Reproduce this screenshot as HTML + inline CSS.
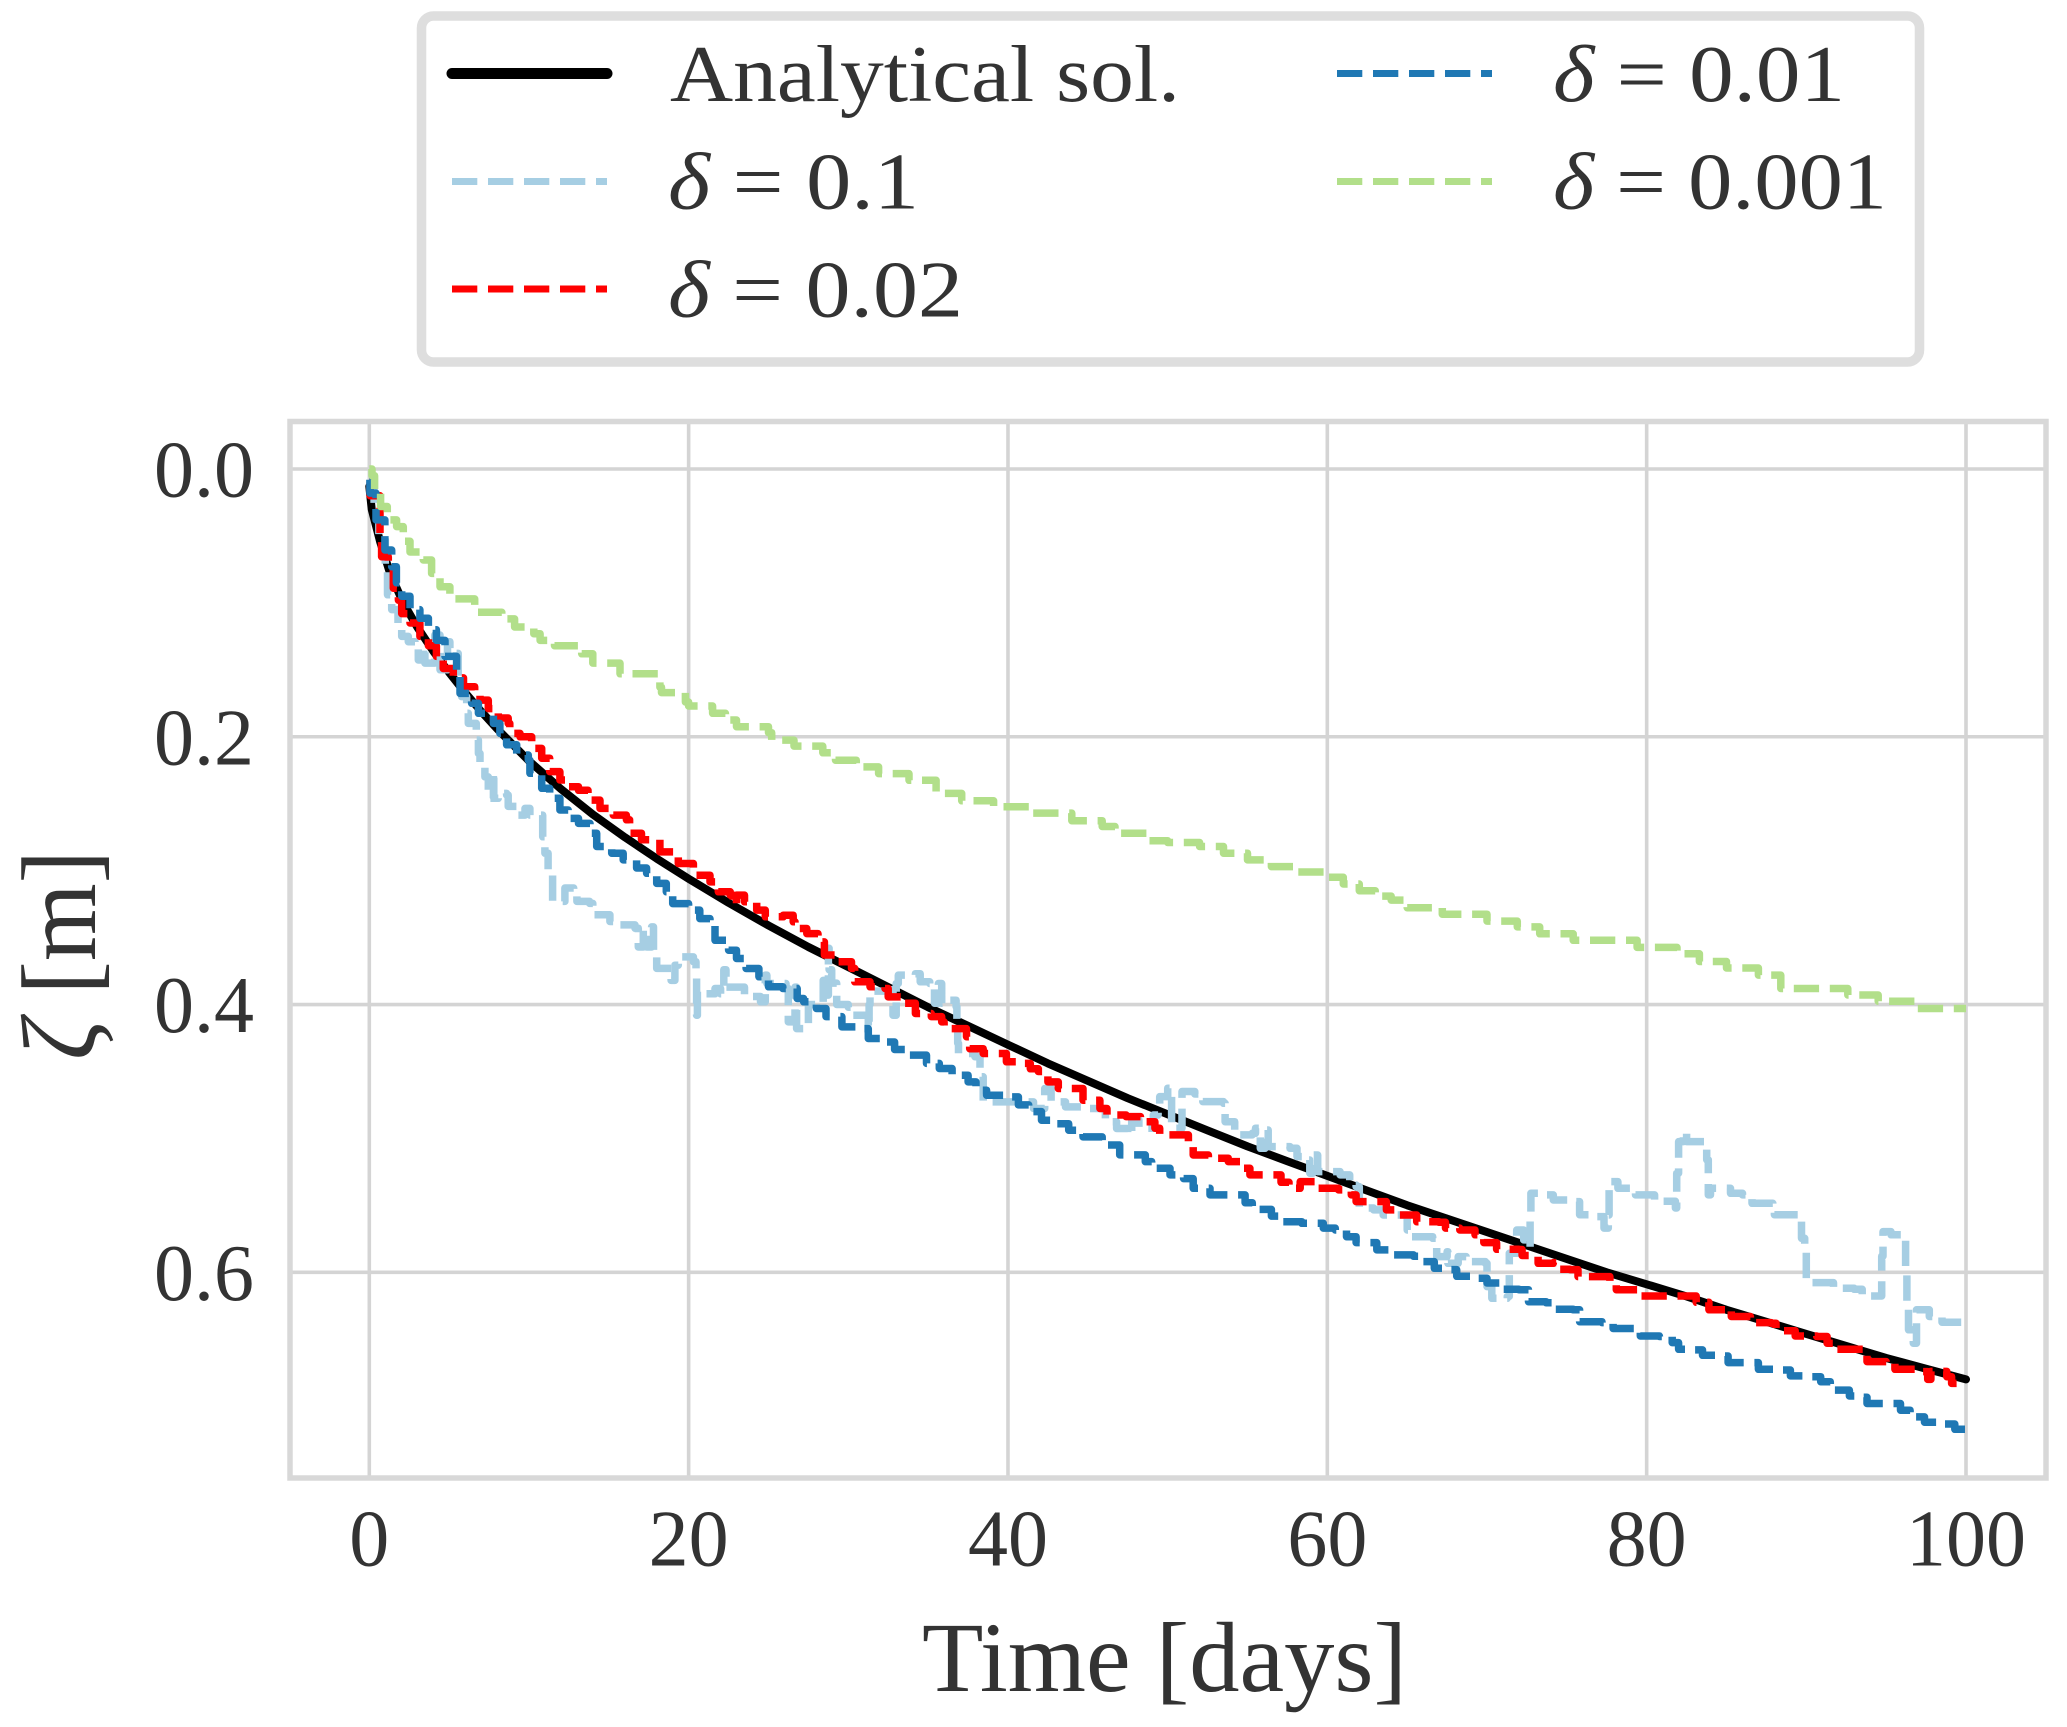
<!DOCTYPE html>
<html lang="en">
<head>
<meta charset="utf-8">
<title>Chart</title>
<style>
html,body{margin:0;padding:0;background:#fff;}
svg{display:block;}
text{font-family:"Liberation Serif",serif;fill:#333333;}
.tick{font-size:80px;}
.leg{font-size:80px;}
.axt{font-size:100px;}
</style>
</head>
<body>
<svg id="chart" xmlns="http://www.w3.org/2000/svg" width="2067" height="1727" viewBox="0 0 2067 1727">
  <rect x="0" y="0" width="2067" height="1727" fill="#ffffff"/>
  <g id="grid"></g>
  <g id="series"></g>
  <rect x="290" y="421.5" width="1756" height="1056.5" fill="none" stroke="#d8d8d8" stroke-width="5.5"/>
  <g id="ticks"></g>
  <text class="axt" x="922" y="1691" textLength="485" lengthAdjust="spacingAndGlyphs">Time [days]</text>
  <text class="axt" font-size="106" style="font-size:106px" transform="translate(95 1060) rotate(-90)" x="0" y="0" textLength="210" lengthAdjust="spacingAndGlyphs"><tspan font-style="italic">ζ</tspan> [m]</text>
  <g>
    <rect x="421.5" y="16" width="1498" height="346" rx="12" ry="12" fill="#ffffff" stroke="#dedede" stroke-width="9.5"/>
    <line x1="452" y1="73.5" x2="607" y2="73.5" stroke="#000000" stroke-width="11" stroke-linecap="round"/>
    <text class="leg" x="670" y="101" textLength="510" lengthAdjust="spacingAndGlyphs">Analytical sol.</text>
    <line x1="452" y1="181.5" x2="607" y2="181.5" stroke="#a6cee3" stroke-width="7" stroke-dasharray="25.3 10.7"/>
    <text class="leg" x="668" y="208.5" textLength="251" lengthAdjust="spacingAndGlyphs"><tspan font-style="italic">δ</tspan> = 0.1</text>
    <line x1="452" y1="289" x2="607" y2="289" stroke="#ff0000" stroke-width="7" stroke-dasharray="25.3 10.7"/>
    <text class="leg" x="668" y="316.5" textLength="295" lengthAdjust="spacingAndGlyphs"><tspan font-style="italic">δ</tspan> = 0.02</text>
    <line x1="1337" y1="73.5" x2="1492" y2="73.5" stroke="#1f78b4" stroke-width="7" stroke-dasharray="25.3 10.7"/>
    <text class="leg" x="1553" y="101" textLength="292" lengthAdjust="spacingAndGlyphs"><tspan font-style="italic">δ</tspan> = 0.01</text>
    <line x1="1337" y1="181.5" x2="1492" y2="181.5" stroke="#b2df8a" stroke-width="7" stroke-dasharray="25.3 10.7"/>
    <text class="leg" x="1553" y="208.5" textLength="334" lengthAdjust="spacingAndGlyphs"><tspan font-style="italic">δ</tspan> = 0.001</text>
  </g>
</svg>
<script>
const xTicks = [0, 20, 40, 60, 80, 100];
const yTicks = [0, 0.2, 0.4, 0.6];
const xTickLabels = ["0", "20", "40", "60", "80", "100"];
const yTickLabels = ["0.0", "0.2", "0.4", "0.6"];

// [day, zeta]
const analytical = [[0,.013],[.15,.03],[.67,.054],[1.3,.078],[2.13,.1],[3,.118],[4,.136],[5,.152],[6,.167],[7,.181],[8,.194],[9,.206],[10,.218],[12,.239],[14,.258],[16,.275],[18,.291],[20,.306],[22.5,.324],[25,.341],[27.5,.357],[30,.372],[32.5,.387],[35,.402],[37.5,.416],[40,.43],[42.5,.444],[45,.457],[47.5,.47],[50,.482],[52.5,.494],[55,.506],[57.5,.517],[60,.528],[62.5,.539],[65,.55],[67.5,.56],[70,.57],[72.5,.58],[75,.59],[77.5,.6],[80,.609],[82.5,.618],[85,.628],[87.5,.637],[90,.646],[92.5,.655],[95,.664],[97.5,.672],[100,.68]];

const delta1 = [[0,.01],[.3,.03],[.6,.05],[1,.075],[1.14,.094],[1.4,.105],[1.8,.115],[2.03,.125],[2.44,.129],[2.86,.133],[3.07,.1427],[3.4,.1327],[3.48,.145],[4.1,.124],[4.43,.15],[4.9,.129],[5.05,.1365],[5.47,.1377],[5.57,.155],[5.78,.17],[6.1,.1825],[6.2,.19],[6.7,.2024],[6.83,.2124],[6.93,.2224],[7.24,.23],[7.45,.246],[7.77,.226],[7.8,.246],[8.08,.2423],[8.6,.2435],[8.7,.252],[9.23,.2585],[9.75,.2535],[10.06,.2585],[10.8,.2585],[10.86,.2747],[11,.287],[11.2,.302],[11.48,.323],[12.25,.313],[12.8,.318],[13,.323],[13.8,.3245],[14,.333],[15.07,.338],[15.7,.3405],[16.64,.343],[16.85,.357],[17.16,.344],[17.37,.357],[17.68,.342],[17.8,.3644],[18,.373],[18.6,.373],[18.9,.382],[19.14,.3706],[19.35,.3644],[20.3,.368],[20.46,.377],[20.5,.408],[20.55,.3905],[21,.392],[21.65,.388],[22,.392],[22.2,.374],[22.34,.387],[23.2,.387],[23.5,.394],[24.5,.398],[24.8,.378],[24.9,.3843],[26.1,.388],[26.24,.413],[26.66,.387],[26.76,.418],[27.5,.4],[28.43,.382],[28.5,.393],[28.75,.358],[28.8,.374],[28.96,.384],[29.27,.4],[30,.402],[30.3,.408],[31.25,.418],[31.3,.4],[31.36,.39],[32.6,.389],[32.8,.408],[33,.3843],[33.13,.378],[34.2,.377],[34.5,.383],[35.1,.3843],[35.4,.399],[35.64,.3843],[35.85,.399],[36.26,.3968],[36.75,.4017],[36.8,.413],[36.85,.429],[36.9,.4366],[37.93,.439],[38.25,.454],[38.45,.4727],[39.9,.4727],[41.6,.4777],[42.3,.4627],[42.7,.4727],[43.6,.4765],[44.7,.4777],[46.1,.4876],[46.8,.4926],[47.5,.4974],[47.75,.4862],[48.2,.4924],[49,.4924],[49.1,.4825],[49.4,.4775],[49.5,.4688],[50,.4625],[50.25,.4924],[50.9,.465],[51.7,.4668],[52.2,.4725],[52.75,.4725],[53.5,.4738],[53.6,.4875],[54.2,.4974],[55.3,.4962],[55.5,.4924],[55.8,.5074],[56.1,.4937],[56.3,.5061],[57.66,.5074],[58.1,.5136],[58.5,.5161],[58.9,.526],[59.1,.5124],[59.4,.5248],[60.8,.5273],[61.4,.5348],[61.8,.536],[62,.552],[62.9,.5534],[63.5,.5572],[64.1,.5572],[65,.5684],[65.3,.5734],[65.9,.5734],[66.6,.5746],[66.85,.5883],[67.5,.5846],[67.55,.5933],[68.2,.5883],[68.7,.592],[69.9,.5933],[70,.6107],[70.3,.6194],[71.27,.618],[71.4,.5858],[71.86,.5684],[72.3,.5758],[72.5,.581],[72.7,.5547],[72.75,.541],[73.7,.5422],[74.15,.546],[75.5,.5472],[75.8,.557],[76.55,.5584],[77.33,.567],[77.6,.5572],[77.65,.5323],[78.2,.5373],[79.06,.5373],[79.3,.5422],[80.1,.5422],[80.5,.547],[81.67,.547],[81.8,.552],[81.88,.526],[82,.5024],[82.3,.495],[82.5,.5024],[83.65,.5036],[83.76,.516],[83.86,.5422],[84,.5373],[85.2,.5373],[85.25,.541],[86,.5422],[86.6,.5485],[87.9,.552],[88,.557],[89.4,.557],[89.7,.5746],[89.9,.583],[90,.6057],[90.3,.6077],[91,.6077],[91.7,.612],[93,.6127],[93.5,.6177],[94.7,.6177],[94.72,.588],[94.8,.5696],[95.3,.572],[96.2,.572],[96.22,.5983],[96.3,.6257],[96.4,.643],[96.7,.653],[96.9,.628],[97.7,.633],[98.5,.6373],[99.7,.6373]];

const delta02 = [[0,.01],[.05,.02],[.67,.048],[.77,.0655],[1.19,.0755],[1.5,.089],[1.82,.098],[2.03,.108],[2.55,.115],[3.17,.125],[3.7,.132],[4.2,.14],[4.63,.149],[5.26,.156],[5.9,.1626],[6.6,.166],[6.93,.1726],[7.45,.179],[8.08,.186],[8.7,.19],[8.8,.1975],[9.44,.2],[10.17,.2087],[10.8,.216],[11.3,.226],[11.94,.2323],[12.46,.2373],[13.1,.24],[13.7,.2473],[14.45,.2535],[15.28,.2585],[16.1,.262],[16.3,.272],[17.05,.277],[18.2,.286],[19.35,.2947],[20.3,.3034],[21.34,.3084],[21.86,.3158],[22.6,.3183],[22.8,.3258],[23,.3183],[23.5,.3233],[24.26,.3295],[24.8,.3345],[25.4,.3345],[25.93,.3333],[26.55,.3382],[26.66,.3432],[27.4,.347],[28.1,.3532],[28.5,.363],[29.3,.368],[30.2,.373],[30.4,.383],[31.36,.3868],[32.3,.388],[32.5,.3943],[33.44,.399],[34.2,.4067],[35.2,.409],[35.85,.413],[36,.418],[36.9,.418],[37.4,.424],[37.6,.433],[38.45,.4366],[39.4,.4366],[39.9,.4428],[40.75,.444],[41.4,.448],[41.9,.45],[42.5,.4578],[43.15,.4627],[44.3,.4627],[44.7,.4715],[45.76,.4777],[46.2,.4825],[47.4,.4837],[48.3,.4875],[49.2,.4924],[49.5,.4974],[50.8,.4974],[51.3,.5024],[51.6,.5124],[52.55,.5148],[53.8,.5173],[54.74,.5223],[55.15,.5273],[57.1,.5328],[57.6,.5373],[58.3,.5323],[59,.5323],[59.4,.5373],[60.7,.5385],[61.5,.5422],[61.8,.5472],[63.5,.5472],[63.7,.5534],[64.45,.5572],[65.6,.5622],[67,.5627],[67.4,.567],[68.3,.5684],[69.25,.572],[69.8,.5778],[70.6,.5828],[72,.583],[72.2,.5875],[73.1,.5875],[73.2,.5933],[74.15,.5928],[74.5,.5978],[75.2,.598],[75.7,.6032],[77,.6032],[77.7,.608],[78.1,.613],[79.5,.6177],[82.4,.6177],[83.1,.6224],[83.9,.628],[85,.627],[85.3,.633],[86.5,.6376],[87.8,.638],[88.1,.6436],[89.3,.6476],[90.65,.648],[91.3,.653],[91.9,.6575],[93.5,.6575],[93.8,.6667],[95,.6675],[95.55,.6725],[96.8,.6742],[97.6,.68],[97.8,.674],[98.8,.678],[99.1,.683],[100,.683]];

const delta01 = [[0,.008],[.04,.018],[.42,.038],[.98,.0605],[1.4,.073],[1.7,.085],[2.03,.095],[2.55,.105],[3.17,.1115],[3.7,.12],[4.2,.128],[4.74,.14],[5.47,.155],[5.68,.1676],[6.41,.175],[6.83,.1825],[7.77,.19],[8.18,.1975],[8.6,.206],[9.23,.2136],[9.96,.2174],[10.06,.2273],[10.8,.2385],[11.3,.246],[11.94,.2547],[12.46,.261],[13.1,.2647],[13.82,.272],[14.24,.282],[15.18,.287],[15.9,.292],[16.74,.298],[17.37,.302],[18,.3095],[18.6,.3158],[19,.3246],[20,.3295],[20.7,.3358],[21.34,.3407],[21.65,.352],[22.5,.3594],[23,.3656],[23.6,.3731],[24.4,.3793],[25,.3868],[25.9,.388],[26.8,.3955],[27.2,.398],[28,.403],[28.6,.409],[29.6,.4167],[30.5,.418],[31.25,.4254],[32,.428],[32.9,.4336],[33.65,.4378],[34.9,.444],[35.7,.4478],[36.5,.4528],[37.5,.4578],[38,.464],[38.66,.4677],[39.9,.469],[40.65,.475],[41.3,.48],[42.1,.4864],[42.94,.489],[43.8,.4939],[44.7,.4989],[45.9,.5049],[47,.5123],[48,.5123],[48.6,.5173],[49,.5223],[50.15,.5273],[51,.53],[51.6,.5373],[52.65,.5422],[54.2,.5422],[54.85,.548],[55.3,.553],[56.5,.558],[57.2,.5622],[58.4,.5634],[59.75,.567],[60.5,.5684],[61.2,.5734],[61.8,.5778],[63.1,.5833],[64.1,.587],[65.4,.588],[66,.592],[66.7,.597],[67.5,.598],[68.1,.603],[69.35,.6045],[70,.608],[70.8,.6127],[72,.613],[72.6,.622],[73.7,.6227],[74.3,.6276],[75.4,.628],[75.8,.6369],[77.2,.6376],[77.9,.642],[79.2,.6426],[79.6,.6476],[80.8,.648],[81.6,.6525],[82,.6575],[82.6,.658],[83.5,.662],[84.6,.6625],[85.1,.6675],[86.5,.6675],[87,.6725],[88.35,.673],[89,.6774],[89.9,.678],[90.9,.6817],[91.5,.688],[92.7,.6924],[93.5,.6934],[93.8,.698],[95.1,.698],[95.9,.703],[96.5,.708],[97.4,.712],[98.6,.7133],[99.3,.7173],[100,.7173]];

const delta001 = [[0,0],[.17,.005],[.33,.017],[.71,.028],[1.13,.038],[1.71,.043],[2.13,.054],[2.55,.062],[3.38,.068],[3.9,.078],[4.43,.088],[5.05,.097],[6.6,.107],[8.3,.112],[9.1,.118],[10.3,.123],[10.7,.128],[11.6,.132],[13.3,.138],[14,.145],[15.7,.153],[18.2,.163],[18.3,.167],[19.8,.174],[20,.177],[21.5,.1825],[22.3,.1875],[23,.1925],[25,.197],[25.2,.2025],[26.6,.207],[28.4,.212],[29.2,.2175],[30.5,.2225],[31.9,.2275],[33.8,.2325],[35.5,.2423],[37.1,.2478],[39.1,.2523],[41.4,.257],[44,.2627],[45.9,.267],[46.7,.272],[48.8,.2777],[50,.279],[52,.282],[53.5,.287],[55,.292],[56.5,.297],[58,.301],[60,.305],[61,.31],[62,.315],[63,.319],[64,.322],[65,.3277],[67.2,.3325],[70,.3377],[71.9,.342],[73.3,.3472],[75.4,.352],[79.4,.3573],[81.9,.3621],[83.3,.3679],[85,.3727],[87,.378],[88.4,.388],[92.6,.3929],[94.5,.3975],[96.8,.403],[100,.403]];

const SVGNS = "http://www.w3.org/2000/svg";
const xScale = function (day) { return 369.3 + day * 15.967; };
const yScale = function (zeta) { return 469 + zeta * 1338.8; };

function stepPath(points) {
  let d = "M" + xScale(points[0][0]).toFixed(1) + " " + yScale(points[0][1]).toFixed(1);
  for (let i = 1; i < points.length; i++) {
    d += "H" + xScale(points[i][0]).toFixed(1) + "V" + yScale(points[i][1]).toFixed(1);
  }
  return d;
}
function linePath(points) {
  return points.map(function (p, i) {
    return (i ? "L" : "M") + xScale(p[0]).toFixed(1) + " " + yScale(p[1]).toFixed(1);
  }).join("");
}

const gridGroup = document.getElementById("grid");
const tickGroup = document.getElementById("ticks");

xTicks.forEach(function (t, i) {
  const gl = document.createElementNS(SVGNS, "line");
  
  
  gl.setAttribute("x1", xScale(t));
  gl.setAttribute("x2", xScale(t));
  gl.setAttribute("y1", 421.5);
  gl.setAttribute("y2", 1478);
  gl.setAttribute("stroke", "#d4d4d4");
  gl.setAttribute("stroke-width", 3.6);
  gridGroup.appendChild(gl);
  const lab = document.createElementNS(SVGNS, "text");
  
  
  lab.setAttribute("class", "tick");
  lab.setAttribute("x", xScale(t));
  lab.setAttribute("y", 1565.5);
  lab.setAttribute("text-anchor", "middle");
  lab.textContent = xTickLabels[i];
  tickGroup.appendChild(lab);
});

yTicks.forEach(function (t, i) {
  const gl = document.createElementNS(SVGNS, "line");
  
  
  gl.setAttribute("x1", 290);
  gl.setAttribute("x2", 2046);
  gl.setAttribute("y1", yScale(t));
  gl.setAttribute("y2", yScale(t));
  gl.setAttribute("stroke", "#d4d4d4");
  gl.setAttribute("stroke-width", 3.6);
  gridGroup.appendChild(gl);
  const lab = document.createElementNS(SVGNS, "text");
  
  
  lab.setAttribute("class", "tick");
  lab.setAttribute("x", 254);
  lab.setAttribute("y", yScale(t) + 27.5);
  lab.setAttribute("text-anchor", "end");
  lab.textContent = yTickLabels[i];
  tickGroup.appendChild(lab);
});

const seriesGroup = document.getElementById("series");

const analyticalLine = document.createElementNS(SVGNS, "path");


analyticalLine.setAttribute("d", linePath(analytical));
analyticalLine.setAttribute("fill", "none");
analyticalLine.setAttribute("stroke", "#000000");
analyticalLine.setAttribute("stroke-width", 8);
analyticalLine.setAttribute("stroke-linecap", "round");
analyticalLine.setAttribute("stroke-linejoin", "round");
seriesGroup.appendChild(analyticalLine);

function addDashed(el, points, color) {
  el.setAttribute("d", stepPath(points));
  el.setAttribute("fill", "none");
  el.setAttribute("stroke", color);
  el.setAttribute("stroke-width", 7.5);
  el.setAttribute("stroke-dasharray", "25.3 10.7");
  el.setAttribute("stroke-linejoin", "round");
  seriesGroup.appendChild(el);
}

const line1 = document.createElementNS(SVGNS, "path");


addDashed(line1, delta1, "#a6cee3");

const line02 = document.createElementNS(SVGNS, "path");


addDashed(line02, delta02, "#ff0000");

const line01 = document.createElementNS(SVGNS, "path");


addDashed(line01, delta01, "#1f78b4");

const line001 = document.createElementNS(SVGNS, "path");


addDashed(line001, delta001, "#b2df8a");
</script>
</body>
</html>
